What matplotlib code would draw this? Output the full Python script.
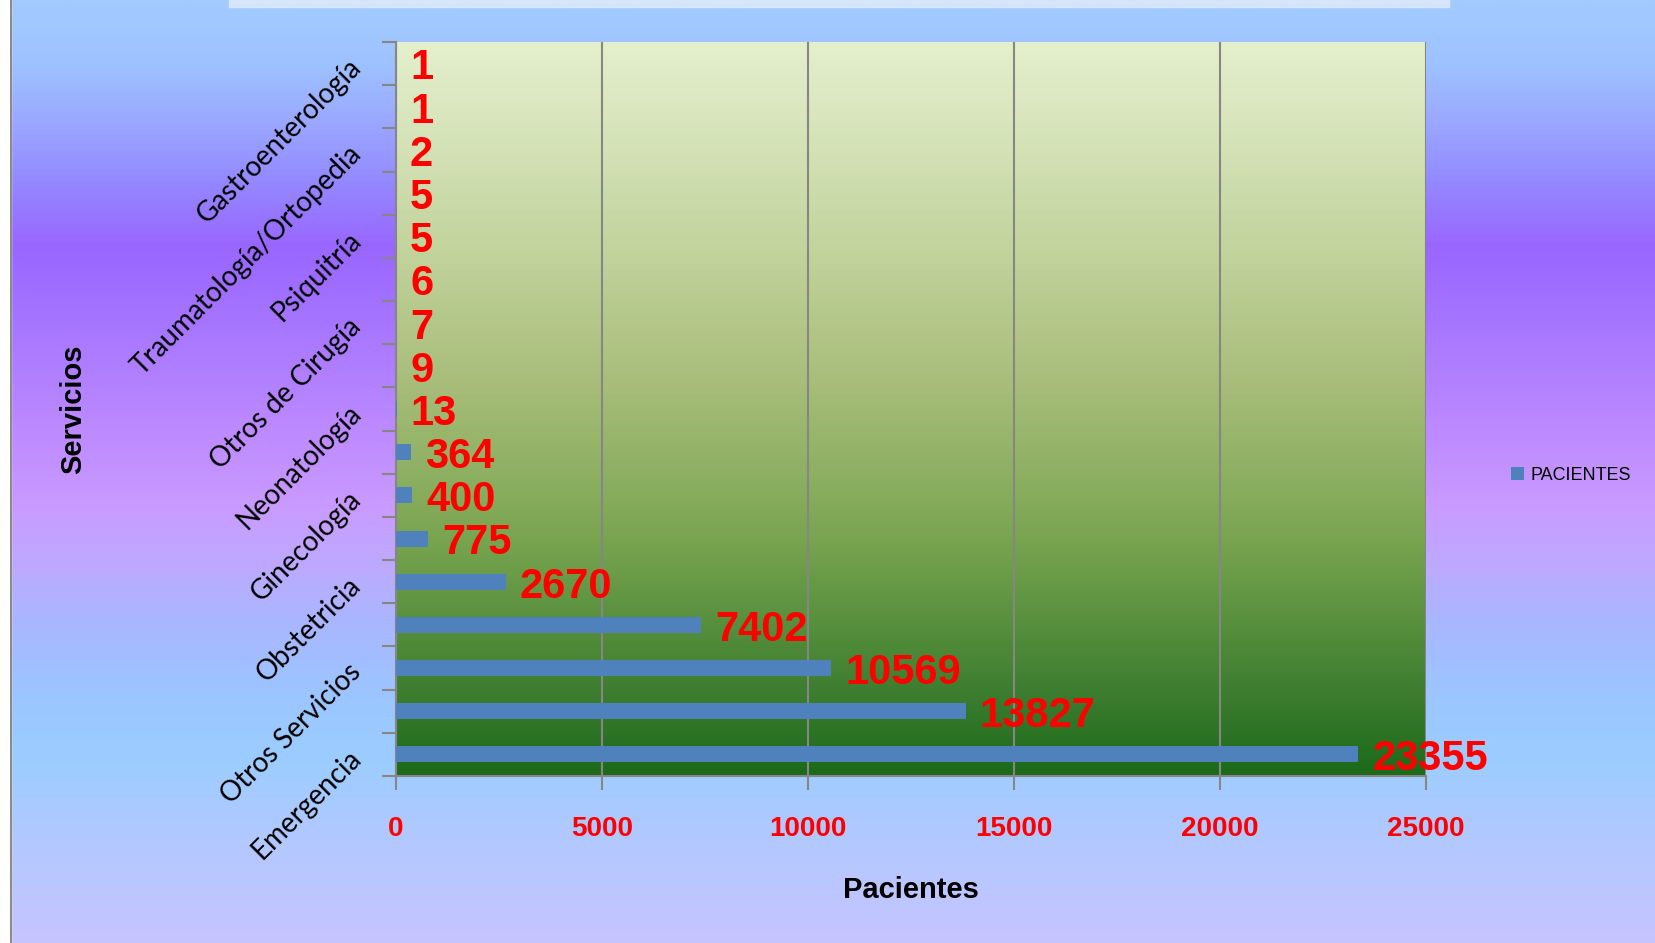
import matplotlib

matplotlib.use("Agg")
import matplotlib.pyplot as plt
import numpy as np
from matplotlib import font_manager
from matplotlib.colors import LinearSegmentedColormap
from matplotlib.patches import Rectangle

# patients per service, bottom to top
pacientes = [23355, 13827, 10569, 7402, 2670, 775, 400, 364, 13, 9, 7, 6, 5, 5, 2, 1, 1]
# only every second category carries a label on the axis
servicios = ["Emergencia", "Otros Servicios", "Obstetricia", "Ginecología", "Neonatología",
             "Otros de Cirugía", "Psiquitría", "Traumatología/Ortopedia", "Gastroenterología"]
xticks = [0, 5000, 10000, 15000, 20000, 25000]


def has_font(name):
    try:
        font_manager.findfont(font_manager.FontProperties(family=name), fallback_to_default=False)
        return True
    except ValueError:
        return False


narrow = "Liberation Sans Narrow" if has_font("Liberation Sans Narrow") else None

W, H = 1656, 943
fig = plt.figure(figsize=(W / 100, H / 100), dpi=100)

# page background gradient (top -> bottom)
bg = fig.add_axes([0, 0, 1, 1], zorder=-10)
stops = [(0, "#a3cbff"), (60, "#9ec2ff"), (120, "#9aa8ff"), (180, "#9488ff"), (245, "#9966ff"),
         (330, "#a777ff"), (420, "#bb88ff"), (505, "#c99aff"), (560, "#bfa8ff"), (620, "#aab6ff"),
         (700, "#9bc6ff"), (760, "#9ccdff"), (850, "#b4c8ff"), (943, "#c6c4ff")]
cmap = LinearSegmentedColormap.from_list("page", [(p / H, c) for p, c in stops])
bg.imshow(np.linspace(0, 1, 400)[:, None], cmap=cmap, aspect="auto", extent=(0, W, H, 0))
bg.add_patch(Rectangle((0, 0), 11, H, color="white"))
bg.plot([11.5, 11.5], [0, H], color="#8c8c8c", lw=1.5)
bg.add_patch(Rectangle((229, -2), 1220, 9, color="#dbe8fb", alpha=0.9))
bg.set_xlim(0, W)
bg.set_ylim(H, 0)
bg.axis("off")

ax = fig.add_axes([396 / W, 1 - 776 / H, 1030 / W, 734 / H])
ax.patch.set_alpha(0)
pos = np.arange(len(pacientes))

plot_stops = [(0, "#e4efcc"), (80, "#d8e5bc"), (210, "#c2d39c"), (340, "#a8bd7a"), (430, "#8eb063"),
              (500, "#78a44f"), (580, "#58903e"), (660, "#3a7b2e"), (734, "#1c6a1a")]
pcmap = LinearSegmentedColormap.from_list("plot", [(p / 734, c) for p, c in plot_stops])
ax.imshow(np.linspace(0, 1, 400)[:, None], cmap=pcmap, aspect="auto",
          extent=(0, 25000, -0.5, len(pacientes) - 0.5), origin="upper", zorder=0)

bars = ax.barh(pos, pacientes, height=0.37, color="#4f81bd", zorder=3, label="PACIENTES")
for y, v in zip(pos, pacientes):
    ax.annotate(str(v), xy=(v, y), xytext=(10, -3.5), textcoords="offset points",
                ha="left", va="center", color="red", fontsize=30, fontweight="bold",
                family="Liberation Sans", zorder=4, annotation_clip=False)

ax.set_xlim(0, 25000)
ax.set_ylim(-0.5, len(pacientes) - 0.5)
ax.set_xticks(xticks)
ax.set_xticklabels([str(t) for t in xticks], color="red", fontsize=20, fontweight="bold",
                   family="Liberation Sans")
ax.tick_params(axis="x", length=10, width=1.5, color="#868686", pad=18.5)

ax.set_yticks(np.arange(-0.5, len(pacientes), 1.0))
ax.set_yticklabels([])
ax.tick_params(axis="y", which="major", length=10, width=1.5, color="#868686")
ax.set_yticks(pos[::2], minor=True)
ax.set_yticklabels(servicios, minor=True, fontsize=20, family="Lato")
ax.tick_params(axis="y", which="minor", length=0, pad=28)
for lab in ax.get_yticklabels(minor=True):
    lab.set_rotation(45)
    lab.set_ha("right")
    lab.set_va("center")
    lab.set_rotation_mode("anchor")

ax.grid(axis="x", color="#868686", lw=1.5, zorder=1)
for side in ("top", "right"):
    ax.spines[side].set_visible(False)
for side in ("left", "bottom"):
    ax.spines[side].set_color("#868686")
    ax.spines[side].set_linewidth(1.5)

if narrow:
    label_font = {"family": narrow, "fontweight": "bold", "fontsize": 25}
    legend_prop = {"family": narrow, "size": 15}
else:
    label_font = {"family": "Liberation Sans", "fontweight": "bold", "fontsize": 21}
    legend_prop = {"family": "Liberation Sans", "size": 13}

ax.set_xlabel("Pacientes", **label_font)
ax.xaxis.set_label_coords(0.5, -0.136)
ax.set_ylabel("Servicios", **label_font)
ax.yaxis.set_label_coords(-0.3, 0.5)

leg = ax.legend(handles=[bars], loc="center left", bbox_to_anchor=(1502 / W, 1 - 475 / H),
                bbox_transform=fig.transFigure, frameon=False, handlelength=0.7, handleheight=0.7,
                handletextpad=0.4, borderpad=0, prop=legend_prop)

fig.savefig("out.png", dpi=100)
